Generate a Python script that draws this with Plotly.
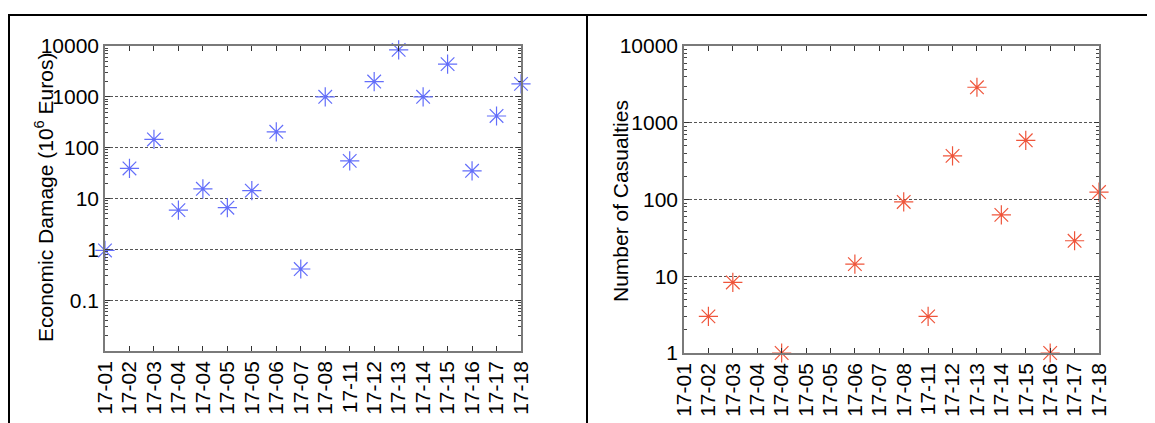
import plotly.graph_objects as go

# Page body has an 8px margin, so the figure is drawn 8px in from the window edge.
OFF = 8
W, H = 1155 - OFF, 423 - OFF

categories = ["17-01", "17-02", "17-03", "17-04", "17-04", "17-05", "17-05", "17-06", "17-07",
              "17-08", "17-11", "17-12", "17-13", "17-14", "17-15", "17-16", "17-17", "17-18"]
economic_damage = [0.95, 39, 145, 5.9, 15.5, 6.6, 14.3, 205, 0.41,
                   1000, 55, 2000, 8400, 1000, 4400, 35, 420, 1800]
casualties = [None, 3, 8.3, None, 1, None, None, 14.4, None,
              93, 3, 370, 2900, 63, 590, 1, 29, 125]

left_yticks = [0.1, 1, 10, 100, 1000, 10000]
left_ytext = ["0.1", "1", "10", "100", "1000", "10000"]
right_yticks = [1, 10, 100, 1000, 10000]
right_ytext = ["1", "10", "100", "1000", "10000"]

idx = list(range(len(categories)))


def minor_vals(lo, hi):
    out = []
    for e in range(lo, hi):
        for m in range(2, 10):
            out.append(m * 10 ** e)
    return out


def fx(px):
    return (px - OFF) / W


def fy(py):
    return 1 - (py - OFF) / H


FONT = "Liberation Sans, Arial, sans-serif"

fig = go.Figure()
fig.add_trace(go.Scatter(x=idx, y=economic_damage, mode="markers", xaxis="x", yaxis="y",
                         cliponaxis=False,
                         marker=dict(symbol="asterisk-open", size=16,
                                     line=dict(color="#3535ff", width=1.2)),
                         showlegend=False))
fig.add_trace(go.Scatter(x=idx, y=casualties, mode="markers", xaxis="x2", yaxis="y2",
                         cliponaxis=False,
                         marker=dict(symbol="asterisk-open", size=16,
                                     line=dict(color="#ff3535", width=1.2)),
                         showlegend=False))

axis_common = dict(showline=True, linecolor="#7a7a7a", linewidth=1.5, mirror="ticks",
                   ticks="inside", ticklen=5, tickcolor="#333", tickwidth=1,
                   tickfont=dict(family=FONT, size=21, color="black"), automargin=False,
                   zeroline=False)

xcommon = dict(axis_common, tickmode="array", tickvals=idx, ticktext=categories,
               tickangle=-90, range=[0, len(categories) - 1], showgrid=False)

grid = dict(showgrid=True, gridcolor="#555", griddash="3px,2px", gridwidth=0.8)

fig.update_layout(
    width=W, height=H, margin=dict(l=0, r=0, t=0, b=0),
    paper_bgcolor="white", plot_bgcolor="white",
    font=dict(family=FONT, color="black"),
    xaxis=dict(xcommon, domain=[fx(105), fx(521)], anchor="y"),
    yaxis=dict(axis_common, **grid, type="log", range=[-2, 4], domain=[fy(351), fy(46)], anchor="x",
               tickmode="array", tickvals=left_yticks, ticktext=left_ytext,
               minor=dict(tickmode="array", tickvals=minor_vals(-2, 4), ticks="inside",
                          ticklen=3, tickcolor="#444", showgrid=False)),
    xaxis2=dict(xcommon, domain=[fx(684), fx(1099)], anchor="y2"),
    yaxis2=dict(axis_common, **grid, type="log", range=[0, 4], domain=[fy(353), fy(46)], anchor="x2",
                tickmode="array", tickvals=right_yticks, ticktext=right_ytext,
                minor=dict(tickmode="array", tickvals=minor_vals(0, 4), ticks="inside",
                           ticklen=3, tickcolor="#444", showgrid=False)),
    annotations=[
        dict(text="Economic Damage (10<sup>6</sup> Euros)", textangle=-90, showarrow=False,
             xref="paper", yref="paper", x=fx(44), y=fy(198), xanchor="center", yanchor="middle",
             font=dict(family=FONT, size=21, color="black")),
        dict(text="Number of Casualties", textangle=-90, showarrow=False,
             xref="paper", yref="paper", x=fx(621), y=fy(201), xanchor="center", yanchor="middle",
             font=dict(family=FONT, size=21, color="black")),
    ],
    shapes=[
        dict(type="line", xref="paper", yref="paper", x0=fx(8), x1=1.0, y0=fy(15), y1=fy(15),
             line=dict(color="black", width=2)),
        dict(type="line", xref="paper", yref="paper", x0=fx(9), x1=fx(9), y0=0, y1=fy(15),
             line=dict(color="black", width=2)),
        dict(type="line", xref="paper", yref="paper", x0=fx(587), x1=fx(587), y0=0, y1=fy(15),
             line=dict(color="black", width=2)),
    ],
)

fig.write_html("out.html")
